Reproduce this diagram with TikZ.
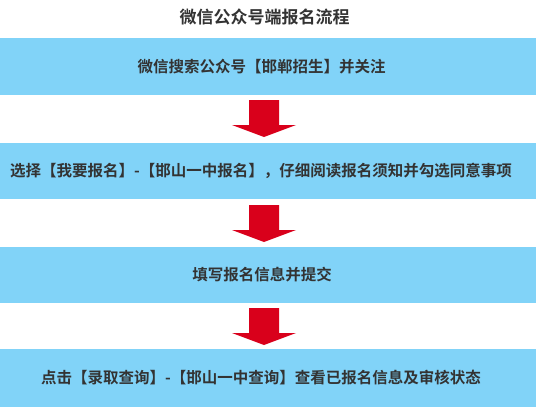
\documentclass[tikz,border=0pt]{standalone}
\usepackage{fontspec}
\setmainfont{Noto Sans CJK SC}[BoldFont={Noto Sans CJK SC Bold}]
\definecolor{bandblue}{HTML}{81D3F8}
\definecolor{arrowred}{HTML}{D9001B}
\definecolor{txt}{HTML}{333333}
\begin{document}
\begin{tikzpicture}[x=1pt,y=-1pt,
  band/.style={fill=bandblue,draw=none,minimum width=536pt,inner sep=0pt},
  bandtext/.style={text=txt,inner sep=0pt,font=\fontsize{15.5pt}{18pt}\selectfont\bfseries},
  redarrow/.style={fill=arrowred,draw=none}]
\useasboundingbox (0,0) rectangle (536,407);
\node[text=txt,font=\fontsize{17pt}{20pt}\selectfont\bfseries] (title) at (264.5,17) {微信公众号端报名流程};
\node[band,minimum height=57pt] (b1) at (268,66.5) {};
\node[band,minimum height=56pt] (b2) at (268,171) {};
\node[band,minimum height=56pt] (b3) at (268,275) {};
\node[band,minimum height=58pt] (b4) at (268,378) {};
\node[bandtext] (t1) at (261.5,66.5) {微信搜索公众号【邯郸招生】并关注};
\node[bandtext] (t2) at (261,171) {选择【我要报名】-【邯山一中报名】，仔细阅读报名须知并勾选同意事项};
\node[bandtext] (t3) at (262,275) {填写报名信息并提交};
\node[bandtext] (t4) at (261,378) {点击【录取查询】-【邯山一中查询】查看已报名信息及审核状态};
\foreach \t in {100,205,308}{
  \fill[redarrow] (249,\t) -- (279,\t) -- (279,\t+25) -- (296,\t+25) -- (264,\t+37) -- (232,\t+25) -- (249,\t+25) -- cycle;
}
\end{tikzpicture}
\end{document}
